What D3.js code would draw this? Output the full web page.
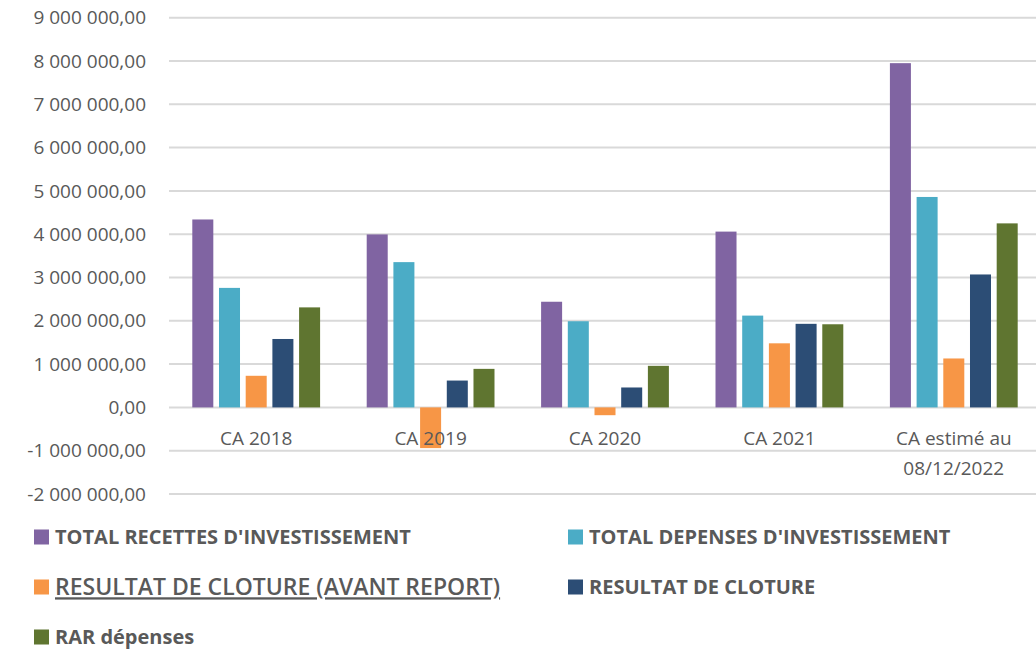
<!DOCTYPE html>
<html>
<head>
<meta charset="utf-8">
<script src="https://cdn.jsdelivr.net/npm/d3@7"></script>
<style>
  body { margin: 0; background: #fff; }
  svg { display: block; font-family: "Open Sans", sans-serif; }
</style>
</head>
<body>
<div id="chart"></div>
<script>
// data
const categories = ["CA 2018", "CA 2019", "CA 2020", "CA 2021", "CA estimé au\n08/12/2022"];
const seriesNames = [
  "TOTAL RECETTES D'INVESTISSEMENT",
  "TOTAL DEPENSES D'INVESTISSEMENT",
  "RESULTAT DE CLOTURE (AVANT REPORT)",
  "RESULTAT DE CLOTURE",
  "RAR dépenses"
];
const recettes   = [4340000, 3995000, 2440000, 4060000, 7950000];
const depenses   = [2760000, 3355000, 1990000, 2120000, 4860000];
const avantReport = [730000, -940000, -180000, 1480000, 1130000];
const cloture    = [1580000, 620000, 460000, 1930000, 3070000];
const rar        = [2310000, 890000, 960000, 1920000, 4250000];
const yTicks = [-2000000, -1000000, 0, 1000000, 2000000, 3000000, 4000000, 5000000, 6000000, 7000000, 8000000, 9000000];

const colors = ["#8064A2", "#4BACC6", "#F79646", "#2C4D75", "#5F7530"];
const values = [recettes, depenses, avantReport, cloture, rar];

const width = 1036, height = 649;
const margin = { top: 17.7, left: 169, plotRight: 1041, bottom: 494 };

const svg = d3.select("#chart").append("svg")
  .attr("width", width).attr("height", height);

const x = d3.scaleBand().domain(categories).range([margin.left, margin.plotRight]).padding(0);
const xs = d3.scaleBand().domain(d3.range(5)).range([0, x.bandwidth()])
  .paddingInner(0.213).paddingOuter(0.873);
const y = d3.scaleLinear().domain([-2000000, 9000000]).range([margin.bottom, margin.top]);

// french number format, plain hyphen for negatives
const fr = d3.formatLocale({ decimal: ",", thousands: " ", grouping: [3], currency: ["", " €"], minus: "-" });
const fmt = fr.format(",.2f");

// gridlines
svg.append("g").selectAll("line").data(yTicks).join("line")
  .attr("x1", margin.left).attr("x2", width)
  .attr("y1", d => y(d)).attr("y2", d => y(d))
  .attr("stroke", "#d9d9d9").attr("stroke-width", 2);

// y labels
svg.append("g").selectAll("text").data(yTicks).join("text")
  .attr("x", 146).attr("y", d => y(d)).attr("dy", "0.35em")
  .attr("text-anchor", "end").attr("font-size", 19).attr("fill", "#595959")
  .text(d => fmt(d));

// bars
const groups = svg.append("g").selectAll("g").data(categories).join("g")
  .attr("transform", d => `translate(${x(d)},0)`);
groups.selectAll("rect").data((c, ci) => values.map((v, si) => ({ si, v: v[ci] }))).join("rect")
  .attr("x", d => xs(d.si)).attr("width", xs.bandwidth())
  .attr("y", d => y(Math.max(0, d.v)))
  .attr("height", d => Math.abs(y(d.v) - y(0)))
  .attr("fill", d => colors[d.si]);

// category labels
svg.append("g").selectAll("text").data(categories).join("text")
  .attr("x", d => x(d) + x.bandwidth() / 2)
  .attr("y", 445)
  .attr("text-anchor", "middle").attr("font-size", 19).attr("fill", "#595959")
  .selectAll("tspan").data(d => d.split("\n")).join("tspan")
  .attr("x", function () { return d3.select(this.parentNode).attr("x"); })
  .attr("dy", (d, i) => i === 0 ? 0 : 30)
  .text(d => d);

// legend
const legendPos = [
  { x: 34, y: 537, size: 20, underline: false },
  { x: 568, y: 537, size: 20, underline: false },
  { x: 34, y: 587, size: 23, underline: true },
  { x: 568, y: 587, size: 20, underline: false },
  { x: 34, y: 637, size: 20, underline: false }
];
const legend = svg.append("g").selectAll("g").data(seriesNames).join("g")
  .attr("transform", (d, i) => `translate(${legendPos[i].x},${legendPos[i].y})`);
legend.append("rect").attr("x", 0).attr("y", -7.5).attr("width", 15).attr("height", 15)
  .attr("fill", (d, i) => colors[i]);
legend.append("text").attr("x", 21).attr("dy", "0.36em")
  .attr("font-size", (d, i) => legendPos[i].size)
  .attr("font-weight", (d, i) => legendPos[i].underline ? 600 : 700)
  .attr("fill", "#595959")
  .style("text-decoration", (d, i) => legendPos[i].underline ? "underline" : null)
  .text(d => d);
</script>
</body>
</html>
